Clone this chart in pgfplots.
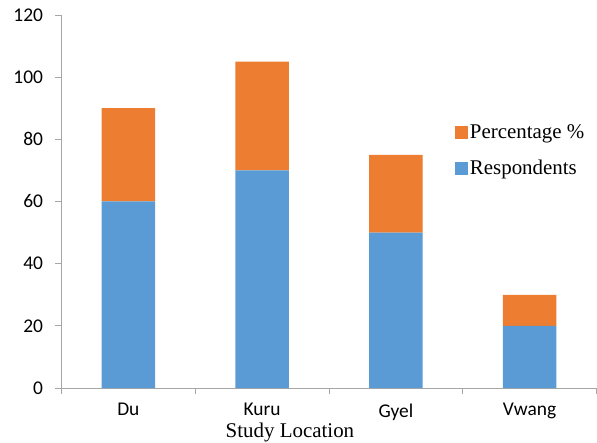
\documentclass[border=0pt]{standalone}
\usepackage{pgfplots}
\pgfplotsset{compat=1.18}
\usepackage{fontspec}
\setmainfont{Liberation Serif}
\newfontfamily\calib{Carlito}
\definecolor{cblue}{RGB}{91,155,213}
\definecolor{corange}{RGB}{237,125,49}
\definecolor{axgray}{RGB}{166,166,166}
\pgfplotstableread{
x resp pct
0 60 30
1 70 35
2 50 25
3 20 10
}\datatable
\begin{document}
\begin{tikzpicture}
\begin{axis}[
  scale only axis,
  width=535bp, height=373bp,
  at={(0,0)}, anchor=south west,
  ybar stacked,
  bar width=0.4,
  xmin=-0.5, xmax=3.5,
  ymin=0, ymax=120,
  ytick={0,20,...,120},
  xtick={0,1,2,3},
  xticklabels={Du,Kuru,Gyel,Vwang},
  minor xtick={-0.5,0.5,1.5,2.5,3.5},
  axis x line*=bottom, axis y line*=left,
  axis line style={axgray, line width=0.9pt, -},
  tick align=outside,
  major x tick style={draw=none},
  minor x tick style={axgray, line width=0.9pt},
  minor tick length=6bp,
  y tick style={axgray, line width=0.9pt},
  major tick length=6bp,
  tick label style={font=\calib\fontsize{19.5}{22}\selectfont},
  yticklabel style={xshift=-9bp},
  xticklabel style={yshift=-6bp},
  /pgf/number format/assume math mode=true,
  legend style={draw=none, fill=none, at={(0.735,0.712)}, anchor=north west,
    font=\fontsize{21}{24}\selectfont, row sep=16bp, inner sep=0pt},
  reverse legend,
  legend cell align=left,
  legend image code/.code={\fill[#1] (0bp,-6.5bp) rectangle (13bp,6.5bp);},
  clip=false,
]
\addplot[fill=cblue, draw=none] table[x=x, y=resp] {\datatable};
\addlegendentry{Respondents}
\addplot[fill=corange, draw=none] table[x=x, y=pct] {\datatable};
\addlegendentry{Percentage \%}
\node[font=\fontsize{21}{24}\selectfont, anchor=center] at (rel axis cs:0.427,-0.119) {Study Location};
\end{axis}
\pgfresetboundingbox
\path[use as bounding box] (-61.5bp,-55bp) rectangle (535.5bp,388bp);
\end{tikzpicture}
\end{document}
